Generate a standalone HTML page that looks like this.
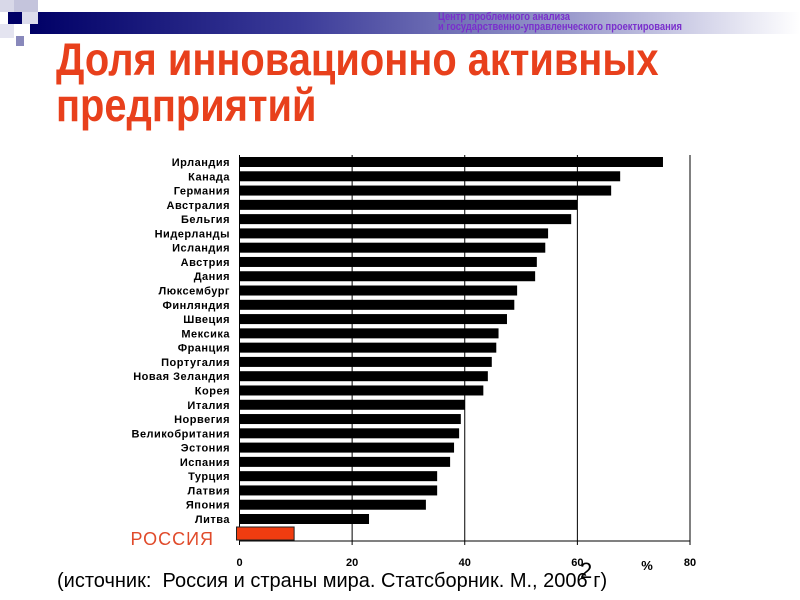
<!DOCTYPE html>
<html><head><meta charset="utf-8"><style>
body{margin:0;width:800px;height:600px;background:#fff;position:relative;overflow:hidden;font-family:"Liberation Sans","DejaVu Sans",sans-serif}
.abs{position:absolute}
</style></head><body>
<div class="abs" style="left:30px;top:12px;width:770px;height:22px;background:linear-gradient(90deg,#000066 0%,#3b3b99 35%,#9a9acc 70%,#ffffff 100%)"></div>
<div class="abs" style="left:0;top:0;width:14px;height:12px;background:#d8d8e8"></div>
<div class="abs" style="left:14px;top:0;width:24px;height:12px;background:#c4c4dc"></div>
<div class="abs" style="left:8px;top:12px;width:14px;height:12px;background:#000066"></div>
<div class="abs" style="left:22px;top:12px;width:16px;height:12px;background:#dcdcec"></div>
<div class="abs" style="left:0;top:24px;width:14px;height:14px;background:#e4e4f0"></div>
<div class="abs" style="left:16px;top:36px;width:8px;height:10px;background:#8888bb"></div>
<div class="abs" style="left:438px;top:12px;font-size:11px;line-height:10px;font-weight:bold;color:#7a2fcc;transform:scaleX(0.85);transform-origin:0 0;white-space:nowrap">Центр проблемного анализа<br>и государственно-управленческого проектирования</div>
<div class="abs" style="left:56px;top:36px;font-size:46px;line-height:46px;font-weight:bold;color:#e8401c;transform:scaleX(0.866);transform-origin:0 0;white-space:nowrap">Доля инновационно активных<br>предприятий</div>
<svg class="abs" style="left:0;top:0" width="800" height="600" id="chart"></svg>
<div class="abs" style="left:57px;top:570px;font-size:20px;color:#000;white-space:nowrap">(источник:&nbsp; Россия и страны мира. Статсборник. М., 2006 г)</div>
<div class="abs" style="left:580px;top:558px;font-size:22px;color:#000">2</div>
<script>
const countries=["Ирландия","Канада","Германия","Австралия","Бельгия","Нидерланды","Исландия","Австрия","Дания","Люксембург","Финляндия","Швеция","Мексика","Франция","Португалия","Новая Зеландия","Корея","Италия","Норвегия","Великобритания","Эстония","Испания","Турция","Латвия","Япония","Литва"];
const values=[75.2,67.6,66,60,58.9,54.8,54.3,52.8,52.5,49.3,48.8,47.5,46,45.6,44.8,44.1,43.3,40,39.3,39,38.1,37.4,35.1,35.1,33.1,23];
const russiaValue=9.7;
const ticks=[0,20,40,60,80];
const NS="http://www.w3.org/2000/svg";
const svg=document.getElementById('chart');
const x0=239.5,xMax=690,vMax=80;
const xs=v=>x0+(xMax-x0)*v/vMax;
const yTop=162,step=14.28;
const ys=i=>yTop+i*step;
function mk(t,a){const e=document.createElementNS(NS,t);for(const k in a)e.setAttribute(k,a[k]);svg.appendChild(e);return e;}
const baseY=541;
ticks.forEach((t,i)=>{
 if(t>0){const g=mk('line',{x1:xs(t),x2:xs(t),y1:155,y2:baseY,stroke:'#000','stroke-width':1});
 
 }
 const tk=mk('line',{x1:xs(t),x2:xs(t),y1:baseY,y2:baseY+4,stroke:'#000'});
 
 
 const lb=mk('text',{x:xs(t),y:566,'text-anchor':'middle','font-size':11,'font-weight':'bold','font-family':'Liberation Sans, sans-serif'});
 lb.textContent=t;
 
 
});
const ax=mk('line',{x1:x0,x2:x0,y1:155,y2:baseY,stroke:'#000'});


const bx=mk('line',{x1:x0,x2:xMax,y1:baseY,y2:baseY,stroke:'#000'});


countries.forEach((c,i)=>{
 const r=mk('rect',{x:x0,y:ys(i)-5,width:xs(values[i])-x0,height:10,fill:'#000'});
 
 
 const t=mk('text',{x:230,y:ys(i)+4,'text-anchor':'end','font-size':11,'font-weight':'bold','letter-spacing':'0.5','font-family':'Liberation Sans, sans-serif'});
 t.textContent=c;
 
 
});
const rr=mk('rect',{x:x0-3,y:527,width:xs(russiaValue)-x0+3,height:13,fill:'#f03c10',stroke:'#222','stroke-width':1});


const rl=mk('text',{x:214,y:545,'text-anchor':'end','font-size':18,fill:'#e04a2a','letter-spacing':'1','font-family':'Liberation Sans, sans-serif'});
rl.textContent='РОССИЯ';


const pc=mk('text',{x:647,y:570,'text-anchor':'middle','font-size':13,'font-weight':'bold','font-family':'Liberation Sans, sans-serif'});
pc.textContent='%';


</script>
</body></html>
